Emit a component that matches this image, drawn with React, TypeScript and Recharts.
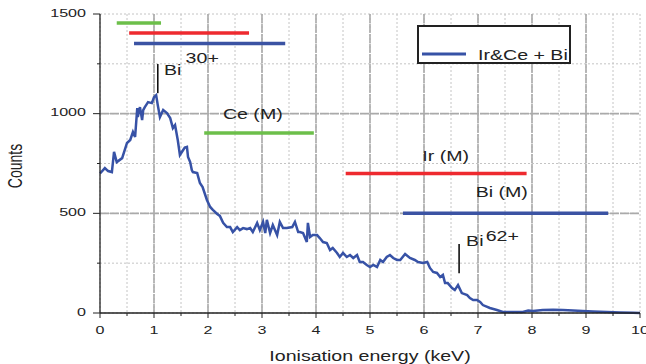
import React from "react";
import {
  ComposedChart,
  Line,
  XAxis,
  YAxis,
  CartesianGrid,
  ReferenceLine,
  ReferenceDot,
  Legend,
} from "recharts";

// spectrum (keV / counts)
const energy = [
  0.0, 0.09, 0.15, 0.22, 0.26, 0.31, 0.41, 0.5, 0.56, 0.61, 0.65, 0.69, 0.7, 0.74,
  0.78, 0.8, 0.83, 0.89, 0.96, 1.0, 1.04, 1.07, 1.11, 1.17, 1.24, 1.3, 1.35, 1.39,
  1.44, 1.48, 1.54, 1.57, 1.61, 1.63, 1.67, 1.7, 1.72, 1.8, 1.85, 1.9, 1.98, 2.04,
  2.09, 2.17, 2.22, 2.28, 2.35, 2.41, 2.46, 2.54, 2.59, 2.65, 2.72, 2.78, 2.83, 2.91,
  2.96, 3.02, 3.06, 3.09, 3.15, 3.2, 3.28, 3.33, 3.39, 3.46, 3.56, 3.61, 3.67, 3.7,
  3.76, 3.83, 3.85, 3.89, 3.94, 4.02, 4.07, 4.13, 4.2, 4.26, 4.31, 4.39, 4.44, 4.5,
  4.57, 4.63, 4.69, 4.76, 4.81, 4.87, 4.94, 5.0, 5.06, 5.13, 5.19, 5.24, 5.31, 5.37,
  5.43, 5.5, 5.56, 5.65, 5.74, 5.83, 5.89, 5.98, 6.06, 6.11, 6.17, 6.24, 6.3, 6.35,
  6.39, 6.44, 6.52, 6.57, 6.63, 6.7, 6.8, 6.85, 6.91, 6.98, 7.04, 7.09, 7.22, 7.35,
  7.46, 7.59, 7.72, 7.83, 7.93, 8.02, 8.2, 8.39, 8.57, 8.76, 8.94, 9.13, 9.39, 9.63,
  9.87, 10.0,
];
const counts = [
  700, 727, 712, 707, 808, 757, 777, 853, 868, 908, 883, 1028, 983, 1033,
  968, 1018, 1033, 1058, 1053, 1083, 1093, 1043, 983, 1018, 1003, 978, 928, 943,
  868, 793, 818, 830, 833, 783, 757, 717, 707, 702, 652, 632, 567, 532,
  517, 497, 487, 452, 431, 431, 406, 431, 416, 426, 421, 426, 406, 452,
  416, 457, 401, 467, 401, 441, 391, 457, 426, 426, 431, 457, 406, 406,
  401, 356, 452, 381, 391, 391, 376, 356, 351, 316, 326, 301, 281, 301,
  281, 291, 276, 291, 256, 256, 241, 231, 241, 231, 266, 256, 281, 291,
  276, 266, 266, 296, 276, 266, 256, 251, 256, 226, 206, 201, 181, 191,
  150, 150, 125, 115, 140, 100, 90, 75, 65, 65, 55, 40, 25, 15,
  5, 5, 5, 5, 12, 10, 15, 16, 15, 12, 10, 8, 5, 3,
  1, 0,
];
const seriesName = "Ir&Ce + Bi";

const xTicks = [0, 0.5, 1, 1.5, 2, 2.5, 3, 3.5, 4, 4.5, 5, 5.5, 6, 6.5, 7, 7.5, 8, 8.5, 9, 9.5, 10];
const yTicks = [0, 250, 500, 750, 1000, 1250, 1500];
const xMajor = [1, 2, 3, 4, 5, 6, 7, 8, 9];
const yMajor = [500, 1000];

// ionisation ranges
const bandElement = ["Ce", "Ir", "Bi", "Ce", "Ir", "Bi"];
const bandFrom = [0.31, 0.54, 0.63, 1.93, 4.55, 5.61];
const bandTo = [1.13, 2.76, 3.43, 3.96, 7.9, 9.41];
const bandLevel = [1455, 1405, 1352, 903, 700, 500];

// shell labels
const shellText = ["Ce (M)", "Ir (M)", "Bi (M)"];
const shellX = [2.83, 6.4, 7.44];
const shellY = [1000, 790, 607];

// charge state markers
const ionCharge = ["30+", "62+"];
const ionEnergy = [1.07, 6.65];
const ionLow = [1103, 200];
const ionHigh = [1249, 346];
const ionTextX = [1.185, 6.78];
const ionTextY = [1217, 361];

const elementColor: Record<string, string> = {
  Ce: "#6cbf4a",
  Ir: "#ee2a2f",
  Bi: "#3b53a3",
};
const lineColor = "#3752a6";
const FONT = "'Liberation Sans', Arial, sans-serif";
const SX = 1.4;

const data = energy.map((e, i) => ({ e, c: counts[i] }));

function WideText({ x, y, children, size = 14, anchor = "middle", rotate = false }: any) {
  const tf = rotate
    ? `translate(${x},${y}) scale(${SX},1) rotate(-90)`
    : `translate(${x},${y}) scale(${SX},1)`;
  return (
    <text transform={tf} textAnchor={anchor} fontSize={size} fontFamily={FONT} fill="#222">
      {children}
    </text>
  );
}

const XTick = (props: any) => {
  const { x, y, payload } = props;
  const major = Number.isInteger(payload.value);
  if (!major) return <line x1={x} x2={x} y1={y} y2={y + 3} stroke="#222" />;
  return (
    <g>
      <line x1={x} x2={x} y1={y} y2={y + 5} stroke="#222" />
      <WideText x={x} y={y + 17} size={11.5}>
        <tspan dy="0.36em">{payload.value}</tspan>
      </WideText>
    </g>
  );
};

const YTick = (props: any) => {
  const { x, y, payload } = props;
  const major = payload.value % 500 === 0;
  if (!major) return <line x1={x - 3} x2={x} y1={y} y2={y} stroke="#222" />;
  return (
    <g>
      <line x1={x - 7} x2={x} y1={y} y2={y} stroke="#222" />
      <WideText x={x - 14} y={y - 1.5} size={11.5} anchor="end">
        <tspan dy="0.36em">{payload.value}</tspan>
      </WideText>
    </g>
  );
};

const XTitle = (props: any) => {
  const vb = props.viewBox;
  return (
    <WideText x={vb.x + vb.width / 2} y={vb.y + 43}>
      <tspan dy="0.36em">Ionisation energy (keV)</tspan>
    </WideText>
  );
};

const YTitle = (props: any) => {
  const vb = props.viewBox;
  return (
    <WideText x={vb.x + 15} y={vb.y + 152} rotate>
      <tspan dy="0.36em">Counts</tspan>
    </WideText>
  );
};

const LegendBox = (props: any) => {
  const item = (props.payload || [])[0];
  return (
    <svg width={154} height={39} style={{ display: "block", overflow: "visible" }}>
      <rect x={1} y={1} width={152} height={37} fill="#fff" stroke="#222" strokeWidth={2} />
      <line x1={5} x2={49} y1={29} y2={29} stroke={item ? item.color : lineColor} strokeWidth={3} />
      <WideText x={61} y={29.5} anchor="start">
        <tspan dy="0.36em">{item ? item.value : seriesName}</tspan>
      </WideText>
    </svg>
  );
};

export default function App() {
  const yMax = yTicks[yTicks.length - 1];
  const xMax = xTicks[xTicks.length - 1];
  return (
    <div style={{ position: "absolute", left: 0, top: 0, width: 646, height: 364, background: "#fff" }}>
      <ComposedChart width={646} height={364} data={data} margin={{ top: 14, right: 6, bottom: 0, left: 0 }}>
        <CartesianGrid stroke="#c4c4c4" strokeDasharray="2 2" />
        <XAxis
          dataKey="e"
          type="number"
          domain={[0, 10]}
          ticks={xTicks}
          interval={0}
          height={51}
          tickSize={0}
          tickMargin={0}
          tickLine={false}
          tick={XTick}
          axisLine={{ stroke: "#222", strokeWidth: 1.3 }}
          label={<XTitle />}
        />
        <XAxis
          xAxisId="top"
          orientation="top"
          type="number"
          domain={[0, 10]}
          height={0}
          tick={false}
          tickLine={false}
          axisLine={{ stroke: "#222", strokeWidth: 1.3 }}
        />
        <YAxis
          type="number"
          domain={[0, 1500]}
          ticks={yTicks}
          interval={0}
          width={100}
          tickSize={0}
          tickMargin={0}
          tickLine={false}
          tick={YTick}
          axisLine={{ stroke: "#222", strokeWidth: 1.3 }}
          label={<YTitle />}
        />
        <YAxis
          yAxisId="right"
          orientation="right"
          type="number"
          domain={[0, 1500]}
          width={0}
          tick={false}
          tickLine={false}
          axisLine={{ stroke: "#222", strokeWidth: 1.3 }}
        />
        {xMajor.map((t) => (
          <ReferenceLine
            key={"gx" + t}
            segment={[{ x: t, y: 0 }, { x: t, y: yMax }]}
            stroke="#aaaaaa"
            strokeWidth={1.6}
            strokeDasharray="9 1"
          />
        ))}
        {yMajor.map((t) => (
          <ReferenceLine
            key={"gy" + t}
            segment={[{ x: 0, y: t }, { x: xMax, y: t }]}
            stroke="#aaaaaa"
            strokeWidth={1.6}
            strokeDasharray="9 1"
          />
        ))}
        {bandElement.map((el, i) => (
          <ReferenceLine
            key={"band" + i}
            segment={[
              { x: bandFrom[i], y: bandLevel[i] },
              { x: bandTo[i], y: bandLevel[i] },
            ]}
            stroke={elementColor[el]}
            strokeWidth={3.5}
          />
        ))}
        {ionEnergy.map((e, i) => (
          <ReferenceLine
            key={"ion" + i}
            segment={[
              { x: e, y: ionLow[i] },
              { x: e, y: ionHigh[i] },
            ]}
            stroke="#111"
            strokeWidth={1.6}
          />
        ))}
        <Line
          type="linear"
          dataKey="c"
          name={seriesName}
          stroke={lineColor}
          strokeWidth={2.5}
          dot={false}
          activeDot={false}
          isAnimationActive={false}
        />
        {shellText.map((t, i) => (
          <ReferenceDot
            key={"shell" + i}
            x={shellX[i]}
            y={shellY[i]}
            r={0}
            shape={(p: any) => (
              <WideText x={p.cx} y={p.cy}>
                <tspan dy="0.36em">{t}</tspan>
              </WideText>
            )}
          />
        ))}
        {ionCharge.map((q, i) => (
          <ReferenceDot
            key={"q" + i}
            x={ionTextX[i]}
            y={ionTextY[i]}
            r={0}
            shape={(p: any) => (
              <WideText x={p.cx} y={p.cy} anchor="start">
                <tspan dy="0.36em">Bi</tspan>
                <tspan dx={i === 0 ? 3 : 1.5} dy={i === 0 ? -12.5 : -5}>
                  {q}
                </tspan>
              </WideText>
            )}
          />
        ))}
        <Legend
          layout="vertical"
          align="center"
          verticalAlign="middle"
          wrapperStyle={{ left: 417, top: 25, width: 154, height: 39 }}
          content={<LegendBox />}
        />
      </ComposedChart>
    </div>
  );
}
